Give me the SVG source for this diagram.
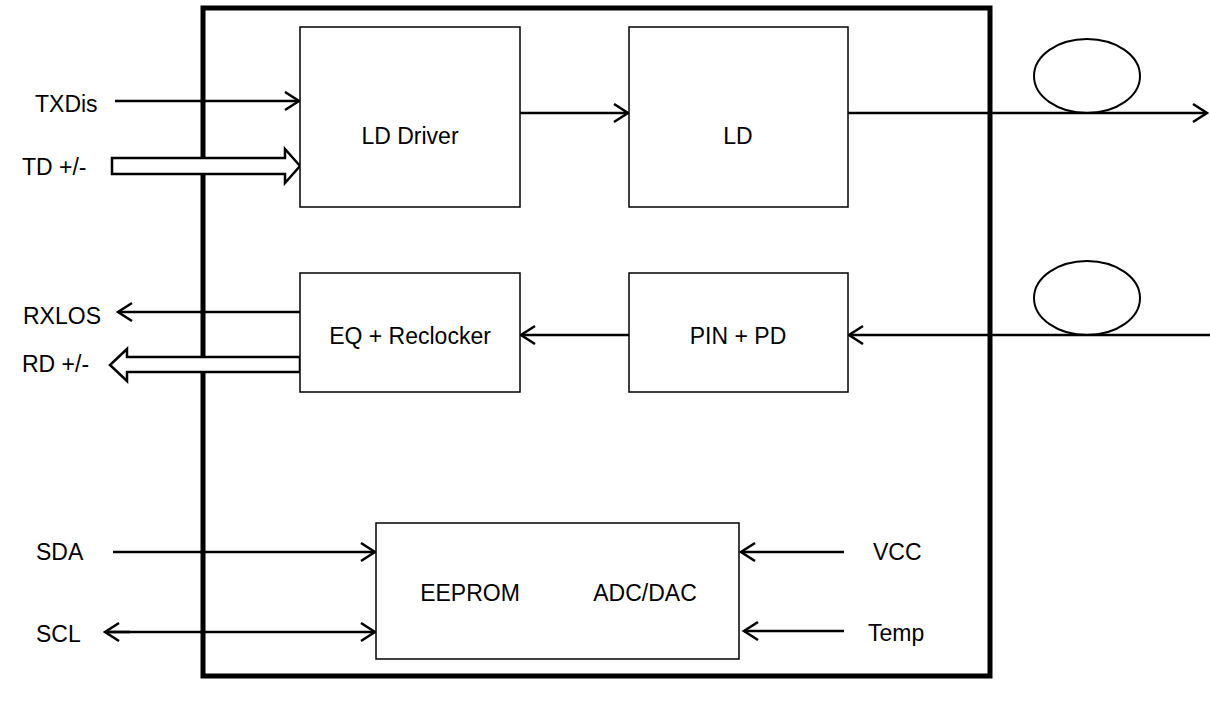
<svg xmlns="http://www.w3.org/2000/svg" width="1210" height="702" viewBox="0 0 1210 702">
<style>
.box{fill:#fff;stroke:#000;stroke-width:1.5}
.frame{fill:none;stroke:#000;stroke-width:5}
.ln{fill:none;stroke:#000;stroke-width:2.5}
.hollow{fill:#fff;stroke:#000;stroke-width:2.5;stroke-linejoin:miter}
.fib{fill:none;stroke:#000;stroke-width:2}
text{font-family:"Liberation Sans",Arial,sans-serif;font-size:23px;fill:#000}
.c{text-anchor:middle}
</style>
<defs>
<marker id="arr" markerUnits="userSpaceOnUse" markerWidth="20" markerHeight="24" refX="16" refY="10" orient="auto">
<path d="M2,1 L16,10 L2,19" fill="none" stroke="#000" stroke-width="2.5"/>
</marker>
</defs>
<rect id="frame" class="frame" x="203" y="8" width="787" height="668"/>
<g id="connectors">
<line class="ln" x1="115" y1="101" x2="299" y2="101" marker-end="url(#arr)"/>
<polygon class="hollow" points="112,158 285,158 285,149 300,166 285,183 285,174 112,174"/>
<line class="ln" x1="300" y1="312" x2="118" y2="312" marker-end="url(#arr)"/>
<polygon class="hollow" points="300,357 127,357 127,349 110,365 127,381 127,372 300,372"/>
<line class="ln" x1="520" y1="113" x2="628" y2="113" marker-end="url(#arr)"/>
<line class="ln" x1="848" y1="113" x2="1207" y2="113" marker-end="url(#arr)"/>
<line class="ln" x1="629" y1="335" x2="521" y2="335" marker-end="url(#arr)"/>
<line class="ln" x1="1210" y1="335" x2="849" y2="335" marker-end="url(#arr)"/>
<line class="ln" x1="113" y1="552" x2="375" y2="552" marker-end="url(#arr)"/>
<line class="ln" x1="106" y1="632" x2="375" y2="632" marker-end="url(#arr)"/>
<line class="ln" x1="130" y1="632" x2="105" y2="632" marker-end="url(#arr)"/>
<line class="ln" x1="844" y1="552" x2="741" y2="552" marker-end="url(#arr)"/>
<line class="ln" x1="844" y1="631" x2="744" y2="631" marker-end="url(#arr)"/>
</g>
<g id="fiber-tx"><ellipse class="fib" cx="1087" cy="76" rx="53" ry="37"/></g>
<g id="fiber-rx"><ellipse class="fib" cx="1087" cy="298" rx="53" ry="37"/></g>
<g id="ld-driver"><rect class="box" x="300" y="27" width="220" height="180"/><text class="c" x="410" y="144">LD Driver</text></g>
<g id="ld"><rect class="box" x="629" y="27" width="219" height="180"/><text class="c" x="738" y="144">LD</text></g>
<g id="eq"><rect class="box" x="300" y="273" width="220" height="119"/><text class="c" x="410" y="344">EQ + Reclocker</text></g>
<g id="pin"><rect class="box" x="629" y="273" width="219" height="119"/><text class="c" x="738" y="344">PIN + PD</text></g>
<g id="eeprom"><rect class="box" x="376" y="523" width="363" height="136"/><text class="c" x="470" y="601">EEPROM</text><text class="c" x="645" y="601">ADC/DAC</text></g>
<g id="labels">
<text x="35" y="112">TXDis</text>
<text x="22" y="175">TD +/-</text>
<text x="23" y="324">RXLOS</text>
<text x="22" y="372">RD +/-</text>
<text x="36" y="560">SDA</text>
<text x="36" y="642">SCL</text>
<text x="873" y="560">VCC</text>
<text x="868" y="641">Temp</text>
</g>
</svg>
